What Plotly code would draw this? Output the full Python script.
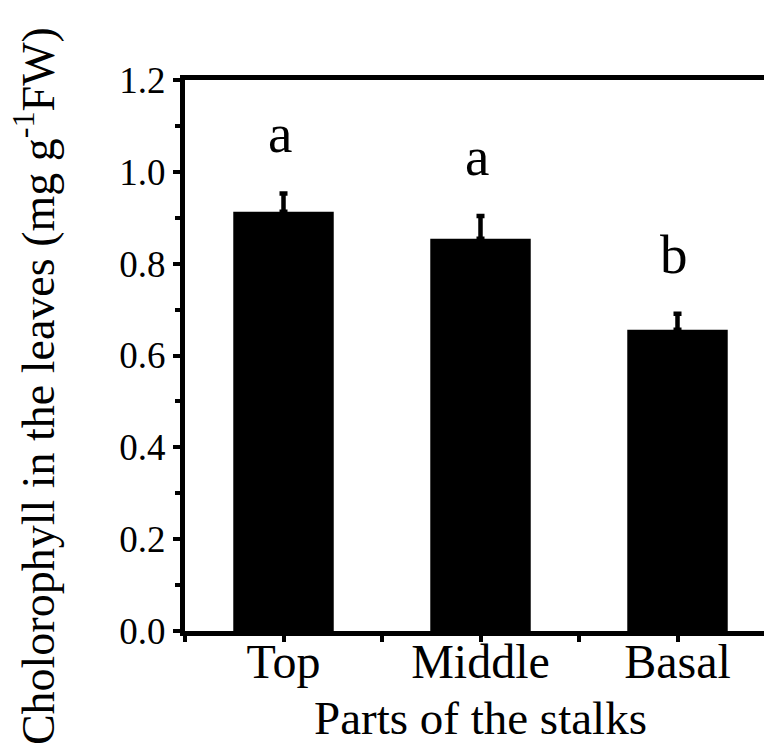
import plotly.graph_objects as go

categories = ["Top", "Middle", "Basal"]
values = [0.913, 0.854, 0.656]
errors = [0.040, 0.050, 0.035]
letters = ["a", "a", "b"]
y_ticks = [0.0, 0.2, 0.4, 0.6, 0.8, 1.0, 1.2]
y_tick_labels = ["0.0", "0.2", "0.4", "0.6", "0.8", "1.0", "1.2"]
x_title = "Parts of the stalks"
y_title = "Cholorophyll in the leaves (mg g<sup>-1</sup>FW)"

FONT = "Liberation Serif, Times New Roman, serif"
positions = list(range(len(categories)))

fig = go.Figure()
fig.add_trace(go.Bar(
    x=positions, y=values, width=0.51,
    marker=dict(color="black", line=dict(width=0)),
    error_y=dict(type="data", array=errors, arrayminus=[0]*len(errors),
                 symmetric=False, color="black", thickness=4.5, width=4),
    showlegend=False,
))

for p, v, e, t in zip(positions, values, errors, letters):
    fig.add_annotation(x=p - 0.02, y=v + e, text=t, showarrow=False,
                       xanchor="center", yanchor="bottom", yshift=27,
                       font=dict(family=FONT, size=55, color="black"))

# y-axis title as a rotated annotation (centered on the figure like the reference)
fig.add_annotation(xref="paper", yref="paper", x=-0.255, y=0.445, text=y_title,
                   textangle=-90, showarrow=False, xanchor="center", yanchor="middle",
                   font=dict(family=FONT, size=46, color="black"))

fig.update_layout(
    width=772, height=754,
    margin=dict(l=177, r=4, t=72, b=131),
    plot_bgcolor="white", paper_bgcolor="white",
    font=dict(family=FONT, color="black"),
)
fig.update_xaxes(
    automargin=False,
    range=[-0.5, 2.5], tickmode="array", tickvals=positions, ticktext=categories,
    ticks="outside", ticklen=6, tickwidth=4, tickcolor="black",
    tickfont=dict(family=FONT, size=48, color="black"), ticklabelstandoff=-22,
    showline=True, linecolor="black", linewidth=5, mirror=True,
    showgrid=False, zeroline=False,
    minor=dict(tickmode="array", tickvals=[-0.5, 0.5, 1.5, 2.5], ticks="outside",
               ticklen=6, tickwidth=4, tickcolor="black", showgrid=False),
    title=dict(text=x_title, font=dict(family=FONT, size=47, color="black"), standoff=16),
)
fig.update_yaxes(
    automargin=False,
    range=[0, 1.2], tickmode="array", tickvals=y_ticks, ticktext=y_tick_labels,
    ticks="outside", ticklen=7, tickwidth=4, tickcolor="black",
    tickfont=dict(family=FONT, size=37, color="black"),
    showline=True, linecolor="black", linewidth=5, mirror=True,
    showgrid=False, zeroline=False,
    minor=dict(dtick=0.1, tick0=0, ticks="outside", ticklen=5, tickwidth=4,
               tickcolor="black", showgrid=False),
)

fig.write_html("out.html")
